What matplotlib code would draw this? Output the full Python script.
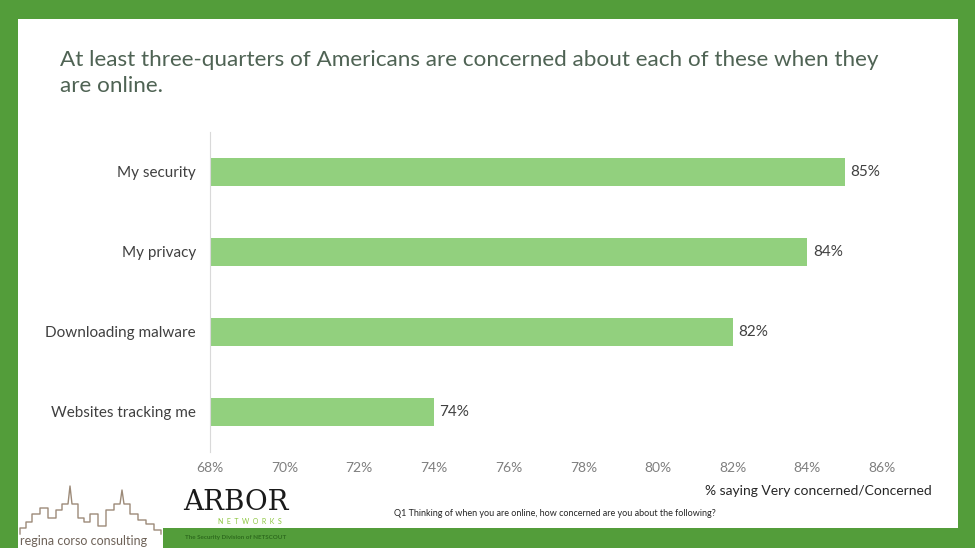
import matplotlib.pyplot as plt
from matplotlib.patches import Rectangle

# data
categories = ['My security', 'My privacy', 'Downloading malware', 'Websites tracking me']
values = [85, 84, 82, 74]
xticks = [68, 70, 72, 74, 76, 78, 80, 82, 84, 86]

plt.rcParams['font.family'] = ['Lato', 'DejaVu Sans']

fig = plt.figure(figsize=(9.75, 5.48), dpi=100)
fig.patch.set_facecolor('#539D3A')

# white slide area
fig.patches.append(Rectangle((18/975, 1-528/548), 940/975, 509/548,
                             transform=fig.transFigure, facecolor='white',
                             edgecolor='none', zorder=-10))

fig.text(60/975, 1-50/548,
         'At least three-quarters of Americans are concerned about each of these when they\nare online.',
         fontsize=16.2, color='#4F6354', va='top', ha='left', linespacing=1.4)

ax = fig.add_axes([210/975, 1-452/548, 672/975, 320/548])
ax.set_facecolor('none')
y = list(range(len(categories)))
ax.barh(y, [v - 68 for v in values], left=68, height=0.35, color='#92D07E')
for yi, v in zip(y, values):
    ax.text(v + 0.15, yi, f'{v}%', va='center', ha='left', fontsize=11, color='#404040')

ax.set_xlim(68, 86)
ax.set_ylim(3.5, -0.5)
ax.set_yticks(y)
ax.set_yticklabels(categories, fontsize=11, color='#404040')
ax.set_xticks(xticks)
ax.set_xticklabels([f'{t}%' for t in xticks], fontsize=10, color='#7F7F7F')
ax.tick_params(axis='both', length=0, pad=10)
ax.tick_params(axis='x', pad=7)
for s in ['top', 'right', 'bottom']:
    ax.spines[s].set_visible(False)
ax.spines['left'].set_color('#D9D9D9')

fig.text(932/975, 1-491/548, '% saying Very concerned/Concerned', fontsize=10,
         color='#262626', ha='right', va='center')
fig.text(394/975, 1-513/548,
         'Q1 Thinking of when you are online, how concerned are you about the following?',
         fontsize=6.5, color='#262626', ha='left', va='center')

# logos (approximate)
lx = fig.add_axes([18/975, 0, 145/975, 68/548])
lx.set_xlim(0, 145)
lx.set_ylim(0, 68)
lx.axis('off')
lx.add_patch(Rectangle((0, 0), 145, 68, facecolor='white', edgecolor='none'))
sky_x = [2, 2, 8, 8, 14, 14, 22, 22, 30, 30, 38, 38, 44, 44, 50, 52, 54, 60, 60,
         66, 66, 72, 72, 80, 80, 88, 88, 96, 96, 102, 104, 106, 112, 112, 120, 120,
         128, 128, 136, 136, 143, 143]
sky_y = [14, 20, 20, 26, 26, 34, 34, 40, 40, 30, 30, 38, 38, 44, 44, 62, 44, 44, 30,
         30, 26, 26, 34, 34, 22, 22, 38, 38, 44, 44, 58, 44, 44, 34, 34, 28, 28, 24,
         24, 18, 18, 14]
lx.plot(sky_x, sky_y, color='#9C8A78', lw=1)
lx.text(2, 7, 'regina corso consulting', fontsize=9, color='#6E6258',
        ha='left', va='center')

fig.text(236/975, 1-502/548, 'ARBOR', fontsize=20, family='DejaVu Serif',
         color='#1A1A1A', ha='center', va='center')
fig.text(250/975, 1-522/548, 'N  E  T  W  O  R  K  S', fontsize=5, color='#8CC63F',
         ha='center', va='center')
fig.text(236/975, 1-537/548, 'The Security Division of NETSCOUT', fontsize=4.5,
         color='#2E6B1E', ha='center', va='center', fontweight='bold')

fig.savefig('out.png', dpi=100, facecolor=fig.get_facecolor())
